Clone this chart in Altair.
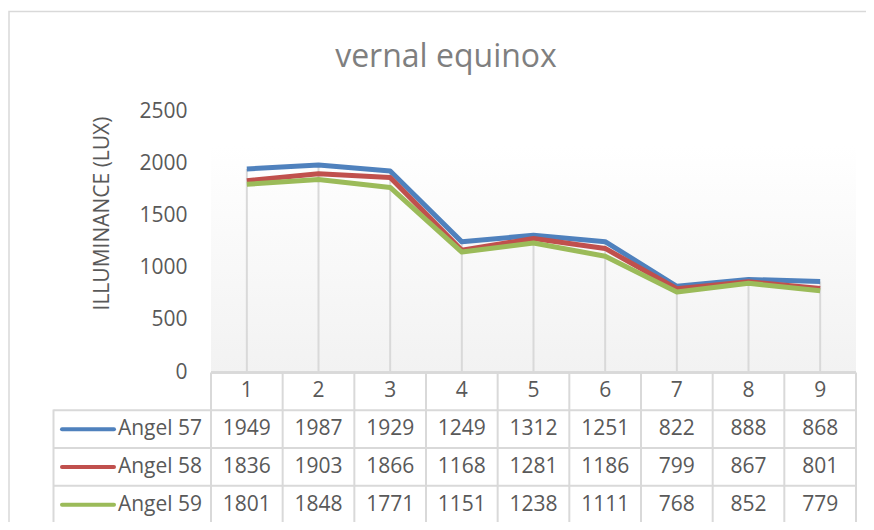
import altair as alt
import pandas as pd

# ---- data ----
categories = [1, 2, 3, 4, 5, 6, 7, 8, 9]
series_names = ["Angel 57", "Angel 58", "Angel 59"]
angel_57 = [1949, 1987, 1929, 1249, 1312, 1251, 822, 888, 868]
angel_58 = [1836, 1903, 1866, 1168, 1281, 1186, 799, 867, 801]
angel_59 = [1801, 1848, 1771, 1151, 1238, 1111, 768, 852, 779]
series_colors = ["#4F81BD", "#C0504D", "#9BBB59"]
y_ticks = [0, 500, 1000, 1500, 2000, 2500]
chart_title = "vernal equinox"
y_title = "ILLUMINANCE (LUX)"

rows = []
for name, vals in zip(series_names, [angel_57, angel_58, angel_59]):
    for c, v in zip(categories, vals):
        rows.append({"cat": c, "series": name, "value": v})
df = pd.DataFrame(rows)
hdr = pd.DataFrame({"cat": categories, "row": ["hdr"] * len(categories)})
leg = pd.DataFrame({"series": series_names})
one = pd.DataFrame({"k": [0]})

FONT = "Open Sans"
GRID = "#D9D9D9"
TXT = "#595959"

xs = alt.Scale(domain=[0.5, 9.5], range=[203, 848])
ys = alt.Scale(domain=[0, 2500], range=[364, 103.5])
rs = alt.Scale(domain=["hdr"] + series_names, range=[364.5, 515.5],
               paddingInner=0, paddingOuter=0)
cs = alt.Scale(domain=series_names, range=series_colors)

frame = alt.Chart(one).mark_rect(fill="white", stroke=GRID, strokeWidth=1.5).encode(
    x=alt.value(1), x2=alt.value(1200), y=alt.value(3.5), y2=alt.value(1200))

plot_bg = alt.Chart(one).mark_rect(
    fill=alt.Gradient(gradient="linear",
                      stops=[alt.GradientStop(color="#FFFFFF", offset=0),
                             alt.GradientStop(color="#F2F2F2", offset=1)],
                      x1=0, x2=0, y1=0, y2=1)
).encode(x=alt.value(203), x2=alt.value(848), y=alt.value(137), y2=alt.value(364))

drop = alt.Chart(df).transform_aggregate(
    top="max(value)", groupby=["cat"]
).mark_rule(color=GRID, strokeWidth=2).encode(
    x=alt.X("cat:Q", scale=xs, axis=None),
    y=alt.Y("top:Q", scale=ys, axis=None),
    y2=alt.datum(0),
)

lines = alt.Chart(df).mark_line(strokeWidth=5, strokeJoin="round").encode(
    x=alt.X("cat:Q", scale=xs, axis=None),
    y=alt.Y("value:Q", scale=ys, axis=alt.Axis(
        orient="left", zindex=1, format="d",
        values=y_ticks, offset=-203, domain=False, ticks=False, grid=False,
        labelPadding=24, labelFont=FONT, labelFontSize=21, labelColor=TXT,
        title=y_title, titleFont=FONT, titleFontSize=21, titleFontWeight="normal",
        titleColor=TXT, titleX=-103, titleY=205, titleAngle=270,
        titleAlign="center", titleBaseline="alphabetic")),
    color=alt.Color("series:N", scale=cs, legend=None),
)

title = alt.Chart(one).mark_text(
    text=chart_title, font=FONT, fontSize=32, color="#7F7F7F",
    align="center", baseline="alphabetic"
).encode(x=alt.value(438), y=alt.value(59))

header = alt.Chart(hdr).mark_text(font=FONT, fontSize=21, color=TXT, baseline="middle").encode(
    x=alt.X("cat:Q", scale=xs, axis=None),
    y=alt.Y("row:N", scale=rs, axis=None),
    text="cat:Q",
)

values = alt.Chart(df).mark_text(font=FONT, fontSize=21, color=TXT, baseline="middle").encode(
    x=alt.X("cat:Q", scale=xs, axis=None),
    y=alt.Y("series:N", scale=rs, axis=None),
    text="value:Q",
)

leg_text = alt.Chart(leg).mark_text(font=FONT, fontSize=21, color=TXT, align="right",
                                     baseline="middle").encode(
    x=alt.value(194),
    y=alt.Y("series:N", scale=rs, axis=None),
    text="series:N",
)

leg_swatch = alt.Chart(leg).mark_rule(strokeWidth=4, strokeCap="round").encode(
    x=alt.value(54), x2=alt.value(106),
    y=alt.Y("series:N", scale=rs, axis=None),
    color=alt.Color("series:N", scale=cs, legend=None),
)

h_rows = alt.Chart(leg).mark_rule(color=GRID, strokeWidth=2).encode(
    x=alt.value(45.5), x2=alt.value(848),
    y=alt.Y("series:N", scale=rs, axis=None, bandPosition=0),
)
h_bottom = alt.Chart(leg).transform_filter(
    alt.datum.series == series_names[-1]
).mark_rule(color=GRID, strokeWidth=2).encode(
    x=alt.value(45.5), x2=alt.value(848),
    y=alt.Y("series:N", scale=rs, axis=None, bandPosition=1),
)
h_top = alt.Chart(hdr).mark_rule(color=GRID, strokeWidth=2).encode(
    x=alt.value(203), x2=alt.value(848),
    y=alt.Y("row:N", scale=rs, axis=None, bandPosition=0),
)

v_lines = alt.Chart(hdr).transform_calculate(edge="datum.cat - 0.5").mark_rule(
    color=GRID, strokeWidth=2).encode(
    x=alt.X("edge:Q", scale=xs, axis=None),
    y=alt.value(364.5), y2=alt.value(515.5),
)
v_right = alt.Chart(hdr).transform_filter(alt.datum.cat == categories[-1]).transform_calculate(
    edge="datum.cat + 0.5").mark_rule(color=GRID, strokeWidth=2).encode(
    x=alt.X("edge:Q", scale=xs, axis=None),
    y=alt.value(364.5), y2=alt.value(515.5),
)
v_left = alt.Chart(one).mark_rule(color=GRID, strokeWidth=2).encode(
    x=alt.value(45.5), y=alt.value(401.5), y2=alt.value(515.5))

chart = alt.layer(
    frame, plot_bg, drop, lines, title,
    h_rows, h_bottom, h_top, v_lines, v_right, v_left,
    header, values, leg_text, leg_swatch,
).properties(
    width=858, height=514,
    autosize=alt.AutoSizeParams(type="none"), padding=0,
    background="white",
).resolve_scale(y="independent").configure_view(stroke=None)

chart.save("out.html", embed_options={"renderer": "svg", "actions": False})
